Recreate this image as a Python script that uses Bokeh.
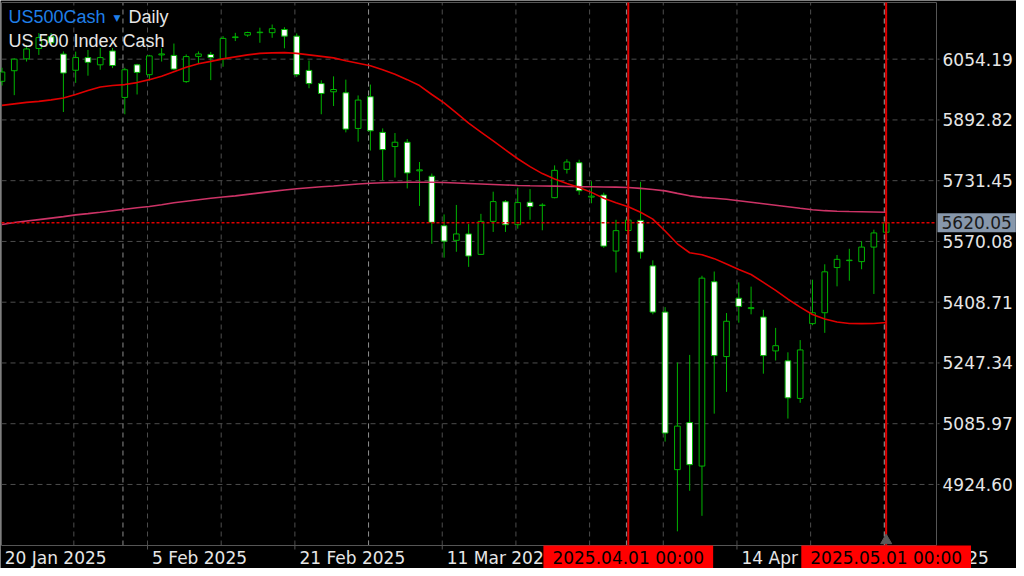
from bokeh.plotting import figure
from bokeh.models import ColumnDataSource, Label, Range1d
from bokeh.embed import file_html
from bokeh.resources import INLINE
from bokeh.core.properties import value

# ---------------- data (US500Cash, daily) ----------------
# bar 0 = 20 Jan 2025 ... bar 72 = 1 May 2025
bar_index = list(range(73))
open_ = [5995.4, 6023.5, 6055.0, 6082.6, 6113.6, 6067.6, 6024.8, 6058.4, 6039.2, 6076.0,
         5952.6, 6039.2, 6013.0, 6065.5, 6064.2, 5994.6, 6061.6, 6066.8, 6055.0, 6111.5,
         6118.1, 6124.6, 6124.6, 6133.0, 6115.4, 6024.3, 5989.3, 5967.5, 5964.9, 5870.3,
         5954.4, 5859.8, 5822.0, 5833.6, 5757.6, 5743.2, 5611.8, 5573.0, 5590.0, 5535.7,
         5623.4, 5675.4, 5614.5, 5674.1, 5665.4, 5686.4, 5761.6, 5779.2, 5687.8, 5693.3,
         5544.6, 5599.2, 5626.0, 5505.2, 5382.5, 4964.0, 5089.1, 4973.5, 5463.1, 5264.3,
         5419.3, 5391.7, 5369.4, 5279.3, 5253.0, 5153.2, 5351.8, 5380.7, 5500.7, 5519.1,
         5516.5, 5555.1, 5594.5]
high = [6031.4, 6056.3, 6091.8, 6123.3, 6123.3, 6074.7, 6074.2, 6078.6, 6083.9, 6083.9,
        6031.4, 6041.9, 6065.5, 6083.1, 6095.7, 6066.8, 6074.7, 6073.4, 6115.4, 6124.1,
        6127.2, 6137.8, 6146.2, 6139.1, 6122.5, 6050.5, 5998.0, 6008.5, 5999.8, 5957.8,
        5986.7, 5870.3, 5858.0, 5842.2, 5781.0, 5750.3, 5641.8, 5667.0, 5616.3, 5643.4,
        5702.2, 5680.1, 5712.7, 5709.0, 5671.5, 5772.1, 5788.4, 5787.1, 5730.0, 5699.6,
        5627.6, 5640.0, 5728.5, 5519.9, 5395.6, 5248.5, 5268.7, 5478.9, 5490.2, 5379.9,
        5461.3, 5450.0, 5388.5, 5340.5, 5275.6, 5308.1, 5468.4, 5509.4, 5534.1, 5550.6,
        5570.9, 5601.3, 5621.6]
low = [5984.1, 5958.6, 6047.9, 6065.5, 6091.8, 5913.9, 5991.2, 6010.3, 6026.1, 6030.6,
       5907.9, 5960.4, 5997.2, 6047.9, 6024.8, 5991.2, 6041.9, 5998.5, 6034.0, 6102.3,
       6113.6, 6097.8, 6111.0, 6083.1, 6006.9, 5977.0, 5907.9, 5929.7, 5859.8, 5835.1,
       5811.5, 5732.7, 5739.8, 5710.9, 5664.4, 5563.8, 5527.0, 5542.7, 5502.6, 5534.1,
       5595.3, 5595.3, 5603.9, 5627.6, 5599.7, 5684.6, 5750.3, 5693.8, 5671.5, 5553.2,
       5487.6, 5575.0, 5524.4, 5376.5, 5038.4, 4800.1, 4907.8, 4841.3, 5112.7, 5170.5,
       5354.4, 5376.5, 5218.8, 5253.8, 5099.6, 5141.6, 5347.6, 5327.3, 5450.8, 5465.8,
       5496.2, 5430.6, 5594.0]
close = [6020.1, 6054.2, 6081.3, 6111.5, 6097.8, 6017.4, 6058.4, 6045.8, 6058.4, 6037.4,
         6026.1, 6019.0, 6062.9, 6068.1, 6027.9, 6061.1, 6068.1, 6058.4, 6109.4, 6113.3,
         6125.1, 6125.9, 6135.1, 6115.4, 6013.0, 5989.3, 5963.1, 5973.6, 5868.5, 5945.5,
         5864.0, 5814.1, 5833.6, 5752.1, 5760.3, 5620.8, 5570.9, 5590.0, 5531.4, 5623.4,
         5675.9, 5614.5, 5673.3, 5662.8, 5666.7, 5758.9, 5781.0, 5704.8, 5690.4, 5557.7,
         5598.7, 5626.8, 5542.0, 5382.5, 5061.2, 5079.6, 4977.2, 5472.6, 5266.9, 5358.1,
         5397.5, 5394.3, 5266.9, 5293.2, 5154.7, 5281.9, 5380.7, 5489.4, 5522.5, 5520.4,
         5555.1, 5592.7, 5620.05]
ma_fast = [5931.5, 5935.5, 5939.4, 5942.0, 5946.0, 5951.2, 5960.4, 5970.9, 5980.1, 5984.1,
           5986.7, 5992.0, 5999.8, 6009.0, 6020.9, 6032.7, 6041.9, 6048.4, 6055.0, 6060.3,
           6065.5, 6069.5, 6070.8, 6071.6, 6069.5, 6065.5, 6061.6, 6057.6, 6049.8, 6043.2,
           6036.6, 6026.1, 6014.3, 5999.8, 5984.1, 5960.4, 5938.1, 5911.8, 5884.3, 5860.6,
           5837.0, 5813.3, 5789.7, 5768.7, 5750.3, 5735.8, 5724.0, 5713.5, 5700.4, 5684.6,
           5672.8, 5662.3, 5647.8, 5629.4, 5597.9, 5563.8, 5540.1, 5534.9, 5524.4, 5509.9,
           5495.5, 5482.3, 5461.3, 5440.3, 5416.6, 5395.6, 5375.9, 5364.1, 5356.2, 5352.3,
           5351.8, 5352.3, 5354.9]
ma_slow = [5615.0, 5620.2, 5624.2, 5628.1, 5632.1, 5636.0, 5640.7, 5643.9, 5647.8, 5651.8,
           5655.7, 5659.6, 5662.8, 5667.5, 5672.8, 5676.7, 5680.7, 5684.6, 5688.0, 5691.2,
           5695.1, 5699.0, 5703.0, 5706.9, 5710.1, 5712.7, 5715.3, 5717.4, 5720.1, 5722.7,
           5724.5, 5725.8, 5726.6, 5727.2, 5727.4, 5727.4, 5726.6, 5725.3, 5724.0, 5722.7,
           5721.4, 5720.1, 5718.8, 5718.0, 5717.4, 5716.9, 5716.1, 5715.6, 5715.3, 5714.8,
           5714.3, 5713.5, 5710.9, 5708.2, 5704.3, 5697.7, 5691.2, 5687.2, 5684.6, 5682.0,
           5678.0, 5674.1, 5670.2, 5666.2, 5662.3, 5658.3, 5654.4, 5651.8, 5650.4, 5649.7,
           5649.1, 5648.4, 5647.8]
current_price = 5620.05
current_price_label = "5620.05"

ytick_values = [6054.19, 5892.82, 5731.45, 5570.08, 5408.71, 5247.34, 5085.97, 4924.60]
ytick_labels = ["6054.19", "5892.82", "5731.45", "5570.08", "5408.71", "5247.34", "5085.97", "4924.60"]

xlabel_bars = [0, 12, 24, 36, 48, 60, 72]
xlabel_texts = ["20 Jan 2025", "5 Feb 2025", "21 Feb 2025", "11 Mar 2025",
                "27 Mar 2025", "14 Apr 2025", "1 May 2025"]
vline_bars = [51, 72]
vline_texts = ["2025.04.01 00:00", "2025.05.01 00:00"]
month_start_bars = [10, 30, 51, 72]
grid_step = 6

symbol_text = "US500Cash"
timeframe_text = "Daily"
description_text = "US 500 Index Cash"

# ---------------- layout / styling ----------------
GREEN = "#00b400"
GRID = "#4d4d4d"
SEP = "#8c8c8c"
BORDER = "#555555"
RED = "#e00000"
TXT = "#e6e6e6"
AXFONT = "DejaVu Sans"

W, H = 1016, 568
# pixel geometry of the price pane inside the canvas
pane_l, pane_r, pane_t, pane_b = 1, 936, 2, 545
bar0_px, bar_px = 1.5, 12.28          # centre of bar 0 and bar spacing, pixels
pane_bottom_price = 4762.5            # price at the pane's bottom edge
price_per_px = 2.656


def X(px):
    """canvas pixel column -> bar coordinate"""
    return (px - bar0_px) / bar_px


def Y(py):
    """canvas pixel row -> price coordinate"""
    return pane_bottom_price + (pane_b - py) * price_per_px


p = figure(width=W, height=H, output_backend="svg", toolbar_location=None,
           x_range=Range1d(X(0), X(W)), y_range=Range1d(Y(H), Y(0)),
           x_axis_location=None, y_axis_location=None,
           min_border=0, min_border_left=0, min_border_right=0,
           min_border_top=0, min_border_bottom=0,
           background_fill_color="black", border_fill_color="black",
           outline_line_color=None)
p.grid.visible = False

y_lo, y_hi = Y(pane_b), Y(pane_t)
x_l, x_r = X(pane_l), X(pane_r)

# horizontal grid (price levels) with a short tick past the right border
n = len(ytick_values)
p.segment(x0=[x_l] * n, y0=ytick_values, x1=[X(pane_r + 3)] * n, y1=ytick_values,
          line_color=GRID, line_dash="5 4", line_width=1)

# vertical grid every 6 bars and month separators
vgrid = [b - 0.15 for b in range(grid_step, int(x_r) + 1, grid_step)]
p.segment(x0=vgrid, y0=[y_lo] * len(vgrid), x1=vgrid, y1=[y_hi] * len(vgrid),
          line_color=GRID, line_dash="5 4", line_width=1)
seps = [b - 0.15 for b in month_start_bars]
p.segment(x0=seps, y0=[y_lo] * len(seps), x1=seps, y1=[y_hi] * len(seps),
          line_color=SEP, line_dash="5 4", line_width=1)

# pane border
p.segment(x0=[x_l, x_l, x_r, x_l], y0=[y_lo, y_hi, y_lo, y_lo],
          x1=[x_l, x_r, x_r, x_r], y1=[y_hi, y_hi, y_hi, y_lo],
          line_color=BORDER, line_width=1)

# small ticks below the time axis
xt = [b - 0.15 for b in xlabel_bars]
p.segment(x0=xt, y0=[y_lo] * len(xt), x1=xt, y1=[Y(pane_b + 4)] * len(xt),
          line_color=BORDER, line_width=1)

# candles
bull = [c >= o for o, c in zip(open_, close)]
src = ColumnDataSource(dict(
    x=bar_index,
    top=[max(o, c) for o, c in zip(open_, close)],
    bottom=[min(o, c) for o, c in zip(open_, close)],
    high=high, low=low,
    fill=["black" if b else "white" for b in bull],
))
p.segment(x0="x", y0="low", x1="x", y1="high", source=src, line_color=GREEN, line_width=1)
p.vbar(x="x", width=0.46, top="top", bottom="bottom", source=src,
       fill_color="fill", line_color=GREEN, line_width=1)

# moving averages
p.line(bar_index, ma_slow, line_color="#cc3366", line_width=1.6)
p.line(bar_index, ma_fast, line_color=RED, line_width=1.6)

# current price line
p.segment(x0=[x_l], y0=[current_price], x1=[x_r], y1=[current_price],
          line_color=RED, line_dash="3 2", line_width=1.5)

# vertical event lines
p.segment(x0=vline_bars, y0=[y_lo] * len(vline_bars), x1=vline_bars,
          y1=[y_hi] * len(vline_bars), line_color=RED, line_width=2)

# chart shift marker
p.scatter(x=[bar_index[-1]], y=[Y(pane_b - 5)], marker="triangle", size=11,
          color="#5a5a5a")

# price axis labels
p.text(x=[X(942)] * n, y=ytick_values, text=ytick_labels,
       text_color=TXT, text_font=value(AXFONT), text_font_size="17px",
       text_align="left", text_baseline="middle")

# time axis labels
p.text(x=[b + 0.22 for b in xlabel_bars], y=[Y(pane_b + 12)] * len(xlabel_bars),
       text=xlabel_texts, text_color=TXT, text_font=value(AXFONT),
       text_font_size="17px", text_align="left", text_baseline="middle")

# header texts
p.add_layout(Label(x=X(8), y=Y(16.5), text=symbol_text, text_color="#1f7fe8",
                   text_font="Liberation Sans", text_font_size="18px",
                   text_baseline="middle"))
p.add_layout(Label(x=X(113), y=Y(17.5), text="\u25bc", text_color="#1f7fe8",
                   text_font="DejaVu Sans", text_font_size="9px",
                   text_baseline="middle"))
p.add_layout(Label(x=X(128), y=Y(16.5), text=timeframe_text, text_color=TXT,
                   text_font="Liberation Sans", text_font_size="18px",
                   text_baseline="middle"))
p.add_layout(Label(x=X(8), y=Y(40), text=description_text, text_color=TXT,
                   text_font="Liberation Sans", text_font_size="18px",
                   text_baseline="middle"))

# red date boxes of the vertical lines
for b, t in zip(vline_bars, vline_texts):
    p.add_layout(Label(x=b, y=Y(pane_b + 12), text=t, text_color="black",
                       text_font=AXFONT, text_font_size="17px",
                       text_align="center", text_baseline="middle",
                       background_fill_color="#ff0000", padding=(9, 2)))

# current price tag on the price axis
p.add_layout(Label(x=X(937), y=current_price, text=current_price_label,
                   text_color="#1a1a1a", text_font=AXFONT, text_font_size="17px",
                   text_align="left", text_baseline="middle",
                   background_fill_color="#8797ab", padding=(4, 3)))

open("out.html", "w").write(file_html(p, INLINE))
